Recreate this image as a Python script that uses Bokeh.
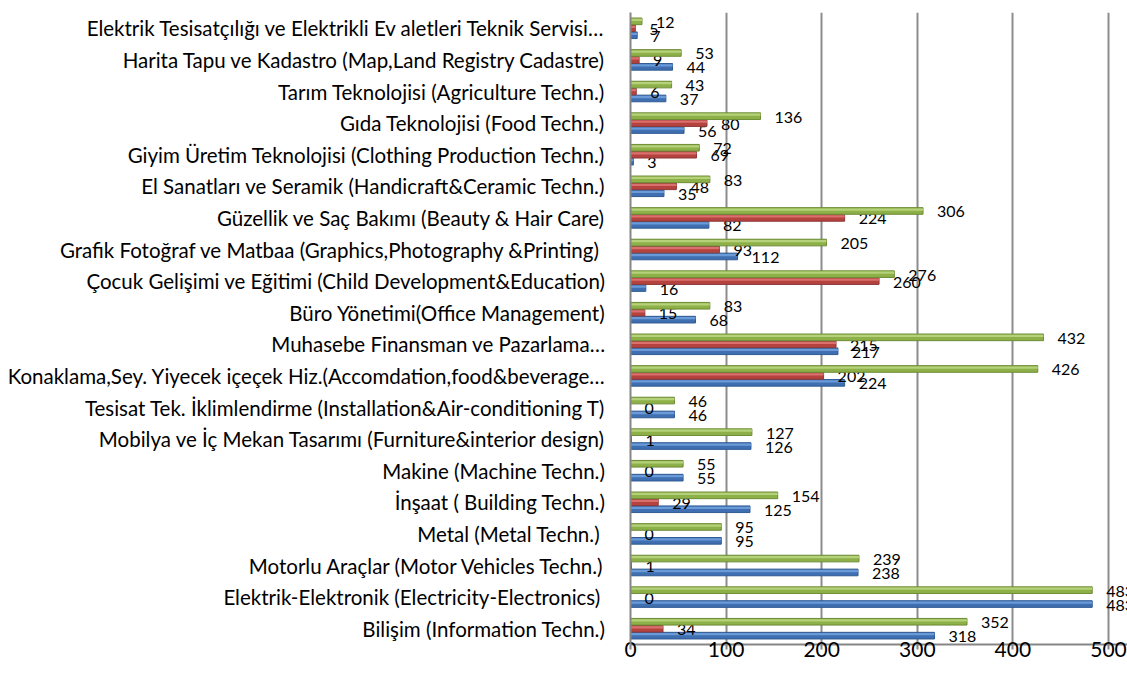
from bokeh.plotting import figure
from bokeh.models import FactorRange, Range1d, ColumnDataSource, FixedTicker
from bokeh.transform import dodge
from bokeh.core.properties import value
from bokeh.embed import file_html
from bokeh.resources import INLINE

categories = [
    "Bilişim (Information Techn.)",
    "Elektrik-Elektronik  (Electricity-Electronics)",
    "Motorlu Araçlar (Motor Vehicles Techn.)",
    "Metal  (Metal Techn.)",
    "İnşaat ( Building Techn.)",
    "Makine (Machine Techn.)",
    "Mobilya ve İç Mekan Tasarımı (Furniture&interior design)",
    "Tesisat Tek. İklimlendirme (Installation&Air-conditioning T)",
    "Konaklama,Sey. Yiyecek içeçek Hiz.(Accomdation,food&beverage…",
    "Muhasebe Finansman ve Pazarlama…",
    "Büro Yönetimi(Office Management)",
    "Çocuk Gelişimi ve Eğitimi (Child Development&Education)",
    "Grafik  Fotoğraf ve Matbaa (Graphics,Photography &Printing)",
    "Güzellik ve Saç Bakımı (Beauty & Hair Care)",
    "El Sanatları ve Seramik (Handicraft&Ceramic Techn.)",
    "Giyim Üretim Teknolojisi (Clothing Production Techn.)",
    "Gıda Teknolojisi (Food Techn.)",
    "Tarım Teknolojisi (Agriculture Techn.)",
    "Harita Tapu ve Kadastro (Map,Land Registry Cadastre)",
    "Elektrik Tesisatçılığı ve Elektrikli Ev aletleri Teknik Servisi…",
]
blue_values = [318, 483, 238, 95, 125, 55, 126, 46, 224, 217, 68, 16, 112, 82, 35, 3, 56, 37, 44, 7]
red_values = [34, 0, 1, 0, 29, 0, 1, 0, 202, 215, 15, 260, 93, 224, 48, 69, 80, 6, 9, 5]
green_values = [352, 483, 239, 95, 154, 55, 127, 46, 426, 432, 83, 276, 205, 306, 83, 72, 136, 43, 53, 12]
x_ticks = [0, 100, 200, 300, 400, 500]

src = ColumnDataSource(dict(
    cat=categories,
    blue=blue_values, red=red_values, green=green_values,
    blue_t=[str(v) for v in blue_values],
    red_t=[str(v) for v in red_values],
    green_t=[str(v) for v in green_values],
))

FONT = "Lato"

p = figure(width=1127, height=685, output_backend="svg", toolbar_location=None,
           y_range=FactorRange(factors=categories), x_range=Range1d(0, 519.9),
           min_border_left=630, min_border_top=12, min_border_bottom=41, min_border_right=0)
p.outline_line_color = None

series = [
    ("blue", -0.22, "#3F6FB0", "#2F5A94", "#6A9AD8"),
    ("red", 0.0, "#B5423F", "#8C3836", "#D9706D"),
    ("green", 0.22, "#8DB048", "#6E8B36", "#B5D27A"),
]
for col, off, fill, line, light in series:
    p.hbar(y=dodge("cat", off, range=p.y_range), right=col, left=0, height=0.21,
           source=src, fill_color=fill, line_color=line, line_width=1)
    p.hbar(y=dodge("cat", off + 0.045, range=p.y_range), right=col, left=0, height=0.07,
           source=src, fill_color=light, line_color=None)
    p.text(x=col, y=dodge("cat", off, range=p.y_range), text=col + "_t", source=src,
           x_offset=14, y_offset=1, text_baseline="middle", text_align="left",
           text_font=value(FONT), text_font_size="16px", text_color="#000000")

p.xaxis.ticker = FixedTicker(ticks=x_ticks)
p.xaxis.major_label_text_font = FONT
p.xaxis.major_label_text_font_size = "21px"
p.xaxis.major_label_text_color = "#000000"
p.xaxis.axis_line_color = "#868686"
p.xaxis.axis_line_width = 2
p.xaxis.major_tick_line_color = "#868686"
p.xaxis.major_tick_line_width = 2
p.xaxis.major_tick_out = 5
p.xaxis.major_tick_in = 0
p.xaxis.minor_tick_line_color = None
p.xaxis.major_label_standoff = -8

p.yaxis.major_label_text_font = FONT
p.yaxis.major_label_text_font_size = "20.5px"
p.yaxis.major_label_text_color = "#000000"
p.yaxis.axis_line_color = "#868686"
p.yaxis.axis_line_width = 2
p.yaxis.major_tick_line_color = None
p.yaxis.major_label_standoff = 19

p.xgrid.grid_line_color = "#8C8C8C"
p.xgrid.grid_line_width = 2
p.ygrid.grid_line_color = None

open("out.html", "w").write(file_html(p, INLINE))
